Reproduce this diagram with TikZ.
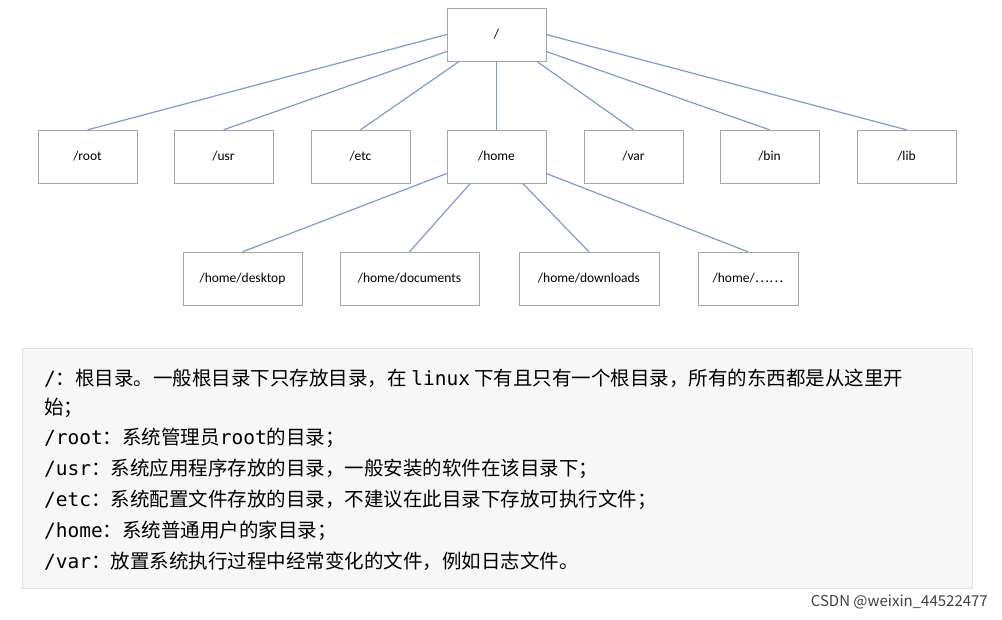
\documentclass[tikz,border=0pt]{standalone}
\usepackage{fontspec}
\setmainfont{Carlito}
\newfontfamily\cjk{Noto Sans CJK SC}
\newfontfamily\mono{DejaVu Sans Mono}
\definecolor{lk}{RGB}{125,155,210}
\begin{document}
\begin{tikzpicture}[x=1pt,y=-1pt,
  dbox/.style={draw=black!35,fill=white,minimum width=99pt,minimum height=53pt,inner sep=0pt,font=\fontsize{13.5}{15}\selectfont},
  link/.style={draw=lk,line width=1.2pt},
  txt/.style={anchor=west,inner sep=0pt,font=\fontsize{19.5}{21}\selectfont}]
\useasboundingbox (0,0) rectangle (1002,620);
\node[dbox] (r) at (496.5,34.5) {/};
\foreach \n/\x/\t in {root/87.5/root,usr/223.5/usr,etc/360.5/etc,home/496.5/home,var/633.5/var,bin/769.5/bin,lib/906.5/lib}
  \node[dbox] (\n) at (\x,156.5) {/\t};
\node[dbox,minimum width=119pt] (desk) at (242.5,278.5) {/home/desktop};
\node[dbox,minimum width=139pt] (doc) at (409.5,278.5) {/home/documents};
\node[dbox,minimum width=140pt] (down) at (589,278.5) {/home/downloads};
\node[dbox,minimum width=100pt] (dots) at (748,278.5) {/home/{\cjk ……}};
\draw[link] (r.west) -- (root.north);
\draw[link] ([yshift=-17pt]r.west) -- (usr.north);
\draw[link] ([xshift=-37pt]r.south) -- (etc.north);
\draw[link] (r.south) -- (home.north);
\draw[link] ([xshift=40pt]r.south) -- (var.north);
\draw[link] ([yshift=-17pt]r.east) -- (bin.north);
\draw[link] (r.east) -- (lib.north);
\draw[link] ([yshift=-17pt]home.west) -- (desk.north);
\draw[link] ([xshift=-26pt]home.south) -- (doc.north);
\draw[link] ([xshift=26pt]home.south) -- (down.north);
\draw[link] ([yshift=-17pt]home.east) -- (dots.north);
\node[draw=black!12,fill=black!3,minimum width=950pt,minimum height=240pt,inner sep=0pt,anchor=north west] (panel) at (22,348) {};
\node[txt] (l1) at (44,378) {{\mono /}{\cjk ：根目录。一般根目录下只存放目录，在\ }{\mono linux}{\cjk \ 下有且只有一个根目录，所有的东西都是从这里开}};
\node[txt] (l2) at (44,408) {\cjk 始；};
\node[txt] (l3) at (44,438) {{\mono /root}{\cjk ：系统管理员}{\mono root}{\cjk 的目录；}};
\node[txt] (l4) at (44,469) {{\mono /usr}{\cjk ：系统应用程序存放的目录，一般安装的软件在该目录下；}};
\node[txt] (l5) at (44,500) {{\mono /etc}{\cjk ：系统配置文件存放的目录，不建议在此目录下存放可执行文件；}};
\node[txt] (l6) at (44,531) {{\mono /home}{\cjk ：系统普通用户的家目录；}};
\node[txt] (l7) at (44,561) {{\mono /var}{\cjk ：放置系统执行过程中经常变化的文件，例如日志文件。}};
\node[anchor=east,inner sep=0pt,font=\fontsize{15}{17}\selectfont\cjk,text=black!75] (csdn) at (988,602) {CSDN @weixin\_44522477};
\end{tikzpicture}
\end{document}
